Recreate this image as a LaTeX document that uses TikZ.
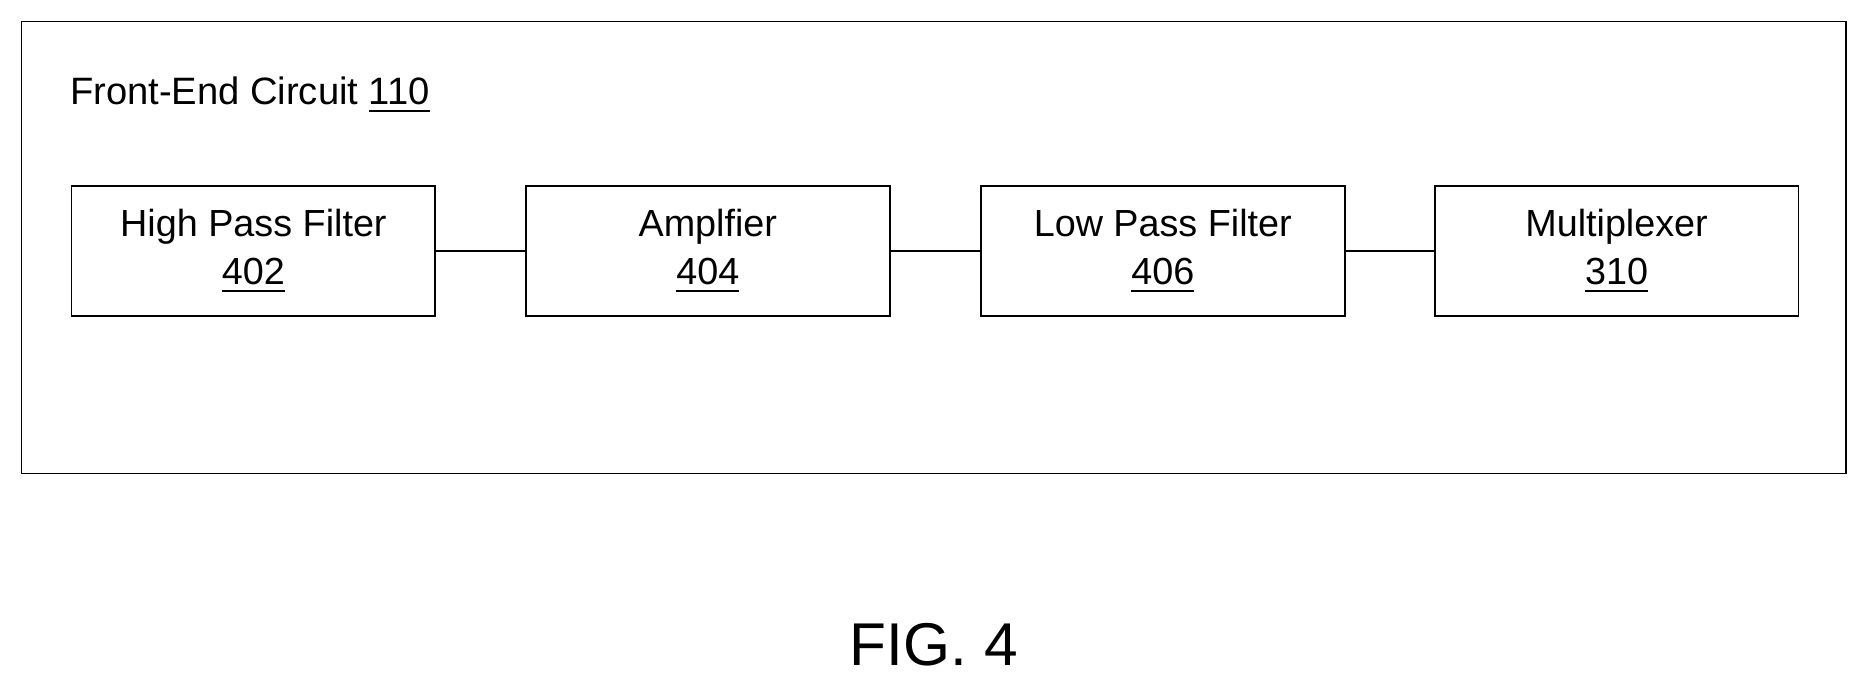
\documentclass[tikz,border=0pt]{standalone}
\usepackage{fontspec}
\setmainfont{Liberation Sans}
\begin{document}
\begin{tikzpicture}[x=0.01cm,y=-0.01cm,
  blk/.style={draw,line width=0.45pt,minimum width=3.05cm,minimum height=1.09cm,inner sep=0pt,font=\fontsize{9}{11.5}\selectfont,align=center},
  ln/.style={line width=0.4pt}]
\useasboundingbox (0,0) rectangle (1568,576);
\draw[line width=0.45pt] (18,18) rectangle (1548,397);
\node[anchor=base west,font=\fontsize{9.1}{11}\selectfont,inner sep=0pt] (title) at (58,88) {Front-End Circuit \underline{110}};
\node[blk] (hpf) at (212.5,210.5) {High Pass Filter\\\underline{402}};
\node[blk] (amp) at (593.5,210.5) {Amplfier\\\underline{404}};
\node[blk] (lpf) at (975,210.5) {Low Pass Filter\\\underline{406}};
\node[blk] (mux) at (1355.5,210.5) {Multiplexer\\\underline{310}};
\draw[ln] (hpf) -- (amp);
\draw[ln] (amp) -- (lpf);
\draw[ln] (lpf) -- (mux);
\node[font=\fontsize{14.4}{18}\selectfont,inner sep=0pt] (fig) at (783,541) {FIG. 4};
\end{tikzpicture}
\end{document}
